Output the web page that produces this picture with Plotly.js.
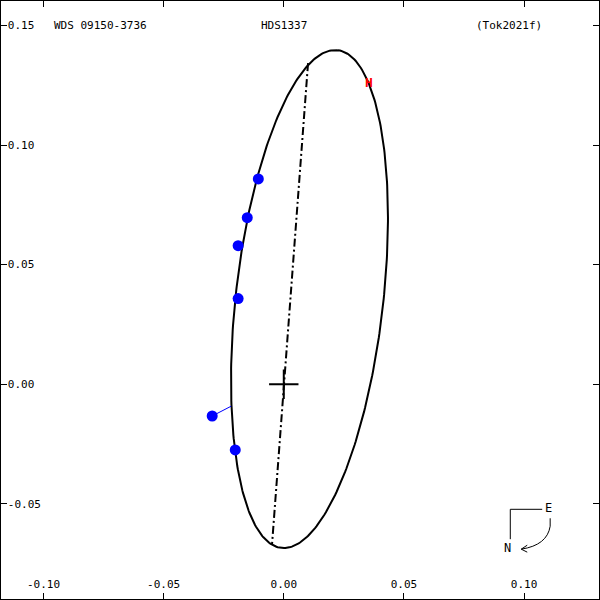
<!DOCTYPE html>
<html><head><meta charset="utf-8">
<script src="https://cdn.plot.ly/plotly-3.0.1.min.js"></script>
<style>html,body{margin:0;padding:0;background:#fff}#plot{width:600px;height:600px}</style>
</head><body><div id="plot"></div>
<script>
// Orbit (apparent ellipse) parameters, arcsec
const orbitCenter = [0.0107, 0.0356];
const orbitSemiMajor = 0.1047;
const orbitSemiMinor = 0.0307;
const orbitAngleDeg = 83.6;
// Line of nodes end points
const nodesX = [0.0101, -0.0049];
const nodesY = [0.1342, -0.0671];
// Observations (blue) and predicted positions
const obsX = [-0.0106, -0.0152, -0.0190, -0.0190, -0.0298, -0.0202];
const obsY = [0.0858, 0.0696, 0.0579, 0.0358, -0.0133, -0.0275];
const predX = [-0.0104, -0.0150, -0.0188, -0.0205, -0.0219, -0.0205];
const predY = [0.0860, 0.0697, 0.0580, 0.0358, -0.0092, -0.0274];
// Red "H" point
const hX = [0.0354];
const hY = [0.1254];
// Ticks
const xTickVals = [-0.10, -0.05, 0.00, 0.05, 0.10];
const xTickText = ["-0.10", "-0.05", "0.00", "0.05", "0.10"];
const yTickVals = [-0.05, 0.00, 0.05, 0.10, 0.15];
const yTickText = ["-0.05", "0.00", "0.05", "0.10", "0.15"];
const titleLeft = "WDS 09150-3736";
const titleMid = "HDS1337";
const titleRight = "(Tok2021f)";

const ex = [], ey = [];
const th = orbitAngleDeg * Math.PI / 180;
for (let i = 0; i <= 360; i++) {
  const t = i * Math.PI / 180;
  ex.push(orbitCenter[0] + orbitSemiMajor * Math.cos(th) * Math.cos(t) - orbitSemiMinor * Math.sin(th) * Math.sin(t));
  ey.push(orbitCenter[1] + orbitSemiMajor * Math.sin(th) * Math.cos(t) + orbitSemiMinor * Math.cos(th) * Math.sin(t));
}
const rx = [], ry = [];
for (let i = 0; i < obsX.length; i++) { rx.push(obsX[i], predX[i], null); ry.push(obsY[i], predY[i], null); }

const mono = "DejaVu Sans Mono";
const traces = [
  {x: ex, y: ey, mode: 'lines', line: {color: '#000', width: 2}, hoverinfo: 'skip'},
  {x: nodesX, y: nodesY, mode: 'lines', line: {color: '#000', width: 2, dash: '8px,3px,2px,3px'}},
  {x: [0], y: [0], mode: 'markers', marker: {symbol: 'cross-thin', size: 21, line: {color: '#000', width: 2}}},
  {x: rx, y: ry, mode: 'lines', line: {color: '#0000ff', width: 1}},
  {x: obsX, y: obsY, mode: 'markers', marker: {symbol: 'circle', size: 11, color: '#0000ff'}},
  {x: hX, y: hY, mode: 'text', text: ['H'], textfont: {family: mono, size: 13, color: '#ff0000', weight: 'bold'}}
];

const px = v => v / 600, py = v => 1 - v / 600;
const ann = (text, x, y, size) => ({text: text, xref: 'paper', yref: 'paper', x: px(x), y: py(y),
  xanchor: 'center', yanchor: 'middle', showarrow: false, font: {family: mono, size: size, color: '#000'}});
const layout = {
  width: 600, height: 600,
  margin: {l: 1, r: 1, t: 1, b: 1},
  paper_bgcolor: '#fff', plot_bgcolor: '#fff',
  showlegend: false,
  xaxis: {range: [-0.1177, 0.1312], tickvals: xTickVals, ticktext: xTickText, ticks: 'inside', ticklen: 6,
          tickcolor: '#000', ticklabelposition: 'inside', ticklabelstandoff: 2, showgrid: false, zeroline: false,
          showline: true, linecolor: '#000', linewidth: 3, mirror: 'allticks',
          tickfont: {family: mono, size: 11, color: '#000'}},
  yaxis: {range: [-0.0898, 0.1602], tickvals: yTickVals, ticktext: yTickText, ticks: 'inside', ticklen: 6,
          tickcolor: '#000', ticklabelposition: 'inside', showgrid: false, zeroline: false,
          showline: true, linecolor: '#000', linewidth: 3, mirror: 'allticks',
          tickfont: {family: mono, size: 11, color: '#000'}},
  annotations: [
    ann(titleLeft, 100, 25, 11),
    ann(titleMid, 284, 25, 11),
    ann(titleRight, 510, 25, 11),
    ann('E', 549, 509, 12),
    ann('N', 508, 549, 12)
  ],
  shapes: [
    {type: 'line', xref: 'paper', yref: 'paper', x0: px(511), y0: py(510), x1: px(543), y1: py(510), line: {color: '#000', width: 1}},
    {type: 'line', xref: 'paper', yref: 'paper', x0: px(511), y0: py(510), x1: px(511), y1: py(540), line: {color: '#000', width: 1}},
    {type: 'path', xref: 'paper', yref: 'paper',
     path: `M ${px(551)},${py(519)} L ${px(551)},${py(527)} Q ${px(548)},${py(546)} ${px(522)},${py(550)}`, line: {color: '#000', width: 1}},
    {type: 'line', xref: 'paper', yref: 'paper', x0: px(522), y0: py(550), x1: px(528), y1: py(546), line: {color: '#000', width: 1}},
    {type: 'line', xref: 'paper', yref: 'paper', x0: px(522), y0: py(550), x1: px(528), y1: py(553), line: {color: '#000', width: 1}}
  ]
};
Plotly.newPlot('plot', traces, layout, {staticPlot: true});
</script></body></html>
